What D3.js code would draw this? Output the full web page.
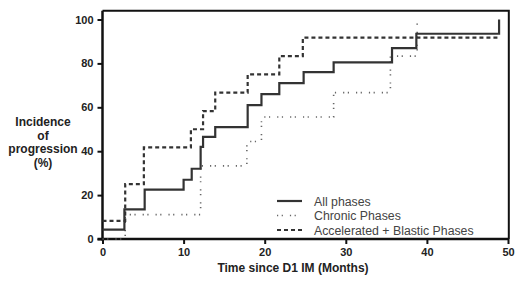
<!DOCTYPE html>
<html>
<head>
<meta charset="UTF-8">
<script src="https://cdn.jsdelivr.net/npm/d3@7"></script>
<style>
  body { margin: 0; background: #fff; }
  svg text { font-family: "Liberation Sans", Arial, sans-serif; }
</style>
</head>
<body>
<div id="root"></div>
<script>
// all phases
const allTimes  = [0, 2.7, 5.2, 10, 11, 12.1, 12.4, 13.9, 17.9, 19.6, 21.8, 24.8, 28.5, 35.7, 38.7, 48.9]
const allValues = [4.3, 13.5, 22.5, 27, 32, 42, 46.5, 51, 61, 66, 71, 76, 80.5, 87, 93.5, 100]
// chronic phases
const chronicTimes  = [0, 2.8, 12.1, 17.8, 19.6, 28.5, 35.5, 38.8]
const chronicValues = [0, 11.1, 33.3, 44.4, 55.6, 66.7, 83.3, 99]
// accelerated + blastic
const abTimes  = [0, 2.8, 5.1, 10.9, 12.4, 13.9, 17.9, 21.8, 24.7, 48.8]
const abValues = [8.3, 25, 41.7, 50, 58.3, 66.7, 75, 83.3, 91.7, 91.7]

const xTicks = [0, 10, 20, 30, 40, 50]
const yTicks = [0, 20, 40, 60, 80, 100]
const legendLabels = ["All phases", "Chronic Phases", "Accelerated + Blastic Phases"]

let width = 520, height = 282
let svg = d3.select("#root").append("svg").attr("width", width).attr("height", height)

let x = d3.scaleLinear().domain([0, 50]).range([102.5, 508])
let y = d3.scaleLinear().domain([0, 100]).range([239, 19.5])

// frame top + right
svg.append("path")
  .attr("d", "M" + x(0) + "," + y(104) + "H" + x(50.1) + "V" + y(0))
  .attr("fill", "none").attr("stroke", "#111").attr("stroke-width", 2)

let xAxis = svg.append("g").attr("transform", "translate(0," + y(0) + ")")
  .call(d3.axisBottom(x).tickValues(xTicks).tickSize(5).tickPadding(4).tickSizeOuter(0))
let yAxis = svg.append("g").attr("transform", "translate(" + x(0) + ",0)")
  .call(d3.axisLeft(y).tickValues(yTicks).tickSize(5).tickPadding(4).tickSizeOuter(0))

;[xAxis, yAxis].forEach(function (g) {
  g.select(".domain").attr("stroke", "#111").attr("stroke-width", 2.5)
  g.selectAll(".tick line").attr("stroke", "#111").attr("stroke-width", 2)
  g.selectAll(".tick text").attr("fill", "#222").style("font-size", "11px").style("font-weight", "bold")
})
yAxis.select(".domain").attr("d", "M0," + (y(0) + 1.5) + "V" + y(104))
xAxis.select(".domain").attr("d", "M" + (x(0) - 5) + ",0H" + (x(50) + 1))

function toPts(ts, vs) { return ts.map(function (t, i) { return [t, vs[i]] }) }

let line = d3.line().x(d => x(d[0])).y(d => y(d[1])).curve(d3.curveStepAfter)

let series = [
  { pts: toPts(chronicTimes, chronicValues), dash: "1.2,3.5,1.2,7", w: 1.6, c: "#666" },
  { pts: toPts(abTimes, abValues), dash: "4,3", w: 2.2, c: "#333" },
  { pts: toPts(allTimes, allValues), dash: null, w: 2.2, c: "#333" }
]
series.forEach(function (s) {
  svg.append("path").attr("d", line(s.pts))
    .attr("fill", "none").attr("stroke", s.c).attr("stroke-width", s.w)
    .attr("stroke-dasharray", s.dash)
})

// legend
let legStyles = [series[2], series[0], series[1]]
let lg = svg.append("g")
legendLabels.forEach(function (lab, i) {
  let ly = 201 + i * 14.5
  let s = legStyles[i]
  lg.append("line").attr("x1", 277).attr("x2", 302).attr("y1", ly).attr("y2", ly)
    .attr("stroke", s.c).attr("stroke-width", s.w).attr("stroke-dasharray", s.dash)
  lg.append("text").attr("x", 314).attr("y", ly + 4.5).text(lab)
    .attr("fill", "#444").style("font-size", "12.3px")
})

// axis titles
svg.append("text").attr("x", 293).attr("y", 272).attr("text-anchor", "middle")
  .text("Time since D1 IM (Months)").attr("fill", "#222")
  .style("font-size", "12px").style("font-weight", "bold")

let yTitle = ["Incidence", "of", "progression", "(%)"]
yTitle.forEach(function (t, i) {
  svg.append("text").attr("x", 43).attr("y", 126 + i * 13.5).attr("text-anchor", "middle")
    .text(t).attr("fill", "#222").style("font-size", "12px").style("font-weight", "bold")
})
</script>
</body>
</html>
